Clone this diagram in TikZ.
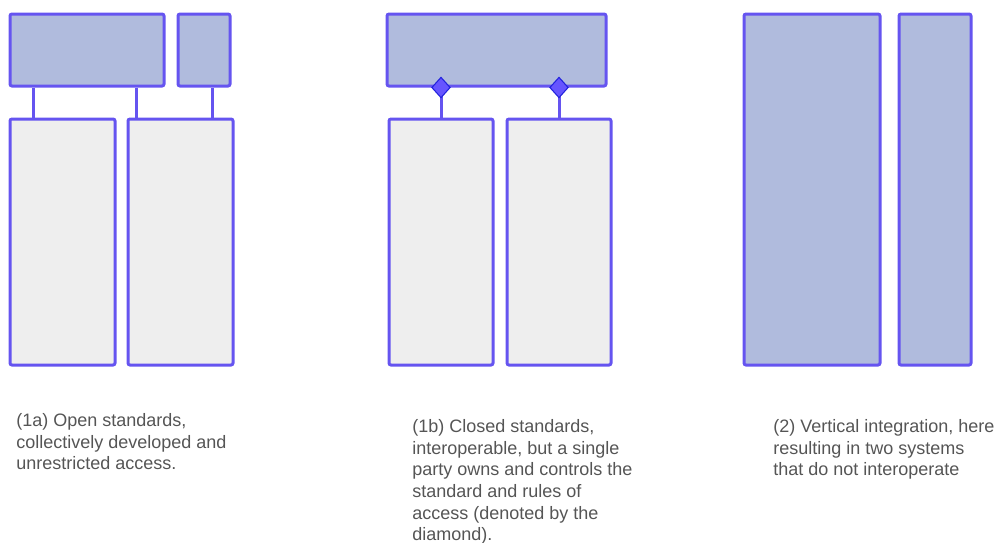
\documentclass[tikz,border=0pt]{standalone}
\usepackage{fontspec}
\setmainfont{Liberation Sans}
\usetikzlibrary{shapes.geometric, fit}
\definecolor{edgeblue}{RGB}{101, 84, 240}
\definecolor{layerblue}{RGB}{176, 187, 221}
\definecolor{systemgray}{RGB}{238, 238, 238}
\definecolor{notegray}{RGB}{85, 85, 85}
\definecolor{diamondblue}{RGB}{102, 85, 255}
\definecolor{diamondedge}{RGB}{34, 34, 221}

\begin{document}
\begin{tikzpicture}[
        x=0.75pt, y=-0.75pt,
        box/.style={rectangle, draw=edgeblue, line width=2.25pt, rounded corners=1.5pt, inner sep=0pt},
        layer/.style={box, fill=layerblue},
        system/.style={box, fill=systemgray},
        link/.style={draw=edgeblue, line width=2.25pt},
        owner/.style={diamond, draw=diamondedge, fill=diamondblue, line width=0.8pt, inner sep=0pt, minimum width=14pt, minimum height=15.5pt},
        note/.style={anchor=north west, align=left, inner sep=0pt, text=notegray, font=\fontsize{13.5}{16.3}\selectfont},
    ]
        \useasboundingbox (0,0) rectangle (997,543);

        % (1a) open standards
        \node[layer, fit={(10,14) (164,86)}] (stdA) {};
        \node[layer, fit={(178,14) (230,86)}] (stdB) {};
        \node[system, fit={(10,119) (115,365)}] (sysA) {};
        \node[system, fit={(128,119) (233,365)}] (sysB) {};
        \coordinate (linkA) at (33,0);
        \coordinate (linkB) at (136,0);
        \coordinate (linkC) at (212,0);
        \draw[link] (linkA |- stdA.south) -- (linkA |- sysA.north);
        \draw[link] (linkB |- stdA.south) -- (linkB |- sysB.north);
        \draw[link] (linkC |- stdB.south) -- (linkC |- sysB.north);
        \node[note] (noteA) at (16,413) {(1a) Open standards,\\collectively developed and\\unrestricted access.};

        % (1b) closed standards
        \node[layer, fit={(387,14) (606,86)}] (stdC) {};
        \node[system, fit={(389,119) (493,365)}] (sysC) {};
        \node[system, fit={(507,119) (611,365)}] (sysD) {};
        \coordinate (linkD) at (441,0);
        \coordinate (linkE) at (559,0);
        \draw[link] (linkD |- stdC.south) -- (linkD |- sysC.north);
        \draw[link] (linkE |- stdC.south) -- (linkE |- sysD.north);
        \node[owner] (ownC) at (linkD |- stdC.south) {};
        \node[owner] (ownD) at (linkE |- stdC.south) {};
        \node[note] (noteB) at (412,419) {(1b) Closed standards,\\interoperable, but a single\\party owns and controls the\\standard and rules of\\access (denoted by the\\diamond).};

        % (2) vertical integration
        \node[layer, fit={(744,14) (880,365)}] (vertA) {};
        \node[layer, fit={(899,14) (971,365)}] (vertB) {};
        \node[note] (noteC) at (773,419) {(2) Vertical integration, here\\resulting in two systems\\that do not interoperate};
    \end{tikzpicture}
\end{document}
